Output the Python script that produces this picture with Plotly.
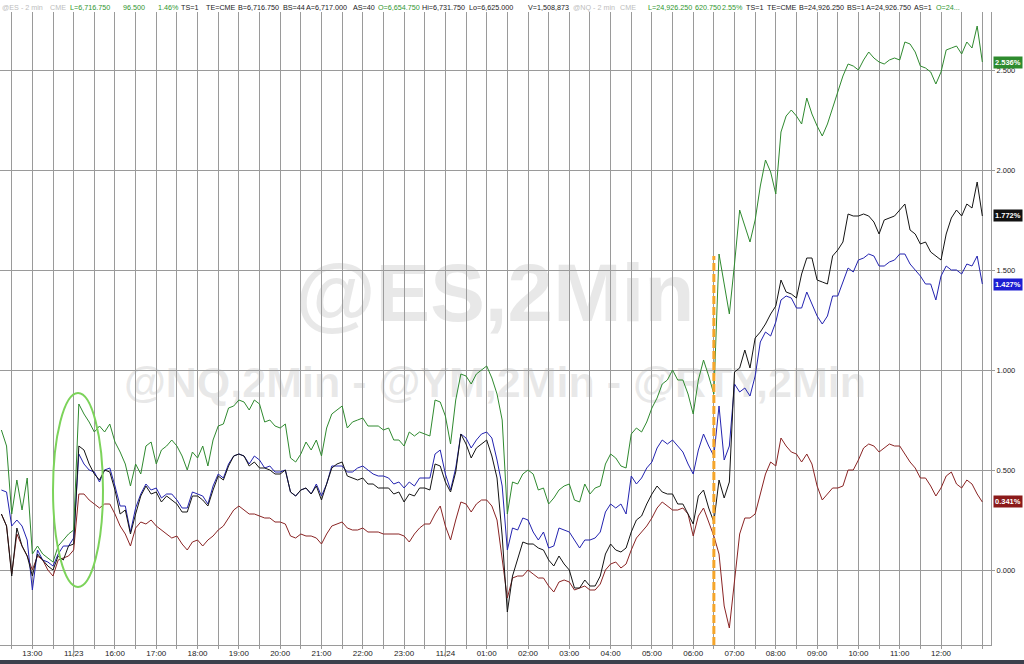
import plotly.graph_objects as go

# ---------------- data ----------------
# x positions: half-hour slot index (grid line every slot), sampled every 7.5 minutes
time_slot = [-0.5 + 0.25 * i for i in range(191)]

tick_slots = [1, 3, 5, 7, 9, 11, 13, 15, 17, 19, 21, 23, 25, 27, 29, 31, 33, 35, 37, 39, 41, 43, 45]
tick_text = ["13:00", "11/23", "16:00", "17:00", "18:00", "19:00", "20:00", "21:00", "22:00",
             "23:00", "11/24", "01:00", "02:00", "03:00", "04:00", "05:00", "06:00", "07:00",
             "08:00", "09:00", "10:00", "11:00", "12:00"]
y_ticks = [0.0, 0.5, 1.0, 1.5, 2.0, 2.5]

# % change series (NQ green, YM-like black, ES blue, RTY red)
nq_pct = [0.70, 0.62,
    0.28, 0.45, 0.30, 0.46,  0.08, 0.12, 0.08, 0.06,  0.04, 0.12, 0.15, 0.18,  0.20, 0.83, 0.78, 0.74,
    0.69, 0.72, 0.69, 0.73,  0.64, 0.59, 0.53, 0.42,  0.53, 0.48, 0.62, 0.64,  0.53, 0.60, 0.62, 0.65,
    0.62, 0.57, 0.50, 0.59,  0.56, 0.62, 0.52, 0.65,  0.72, 0.73, 0.81, 0.82,  0.85, 0.84, 0.80, 0.85,
    0.83, 0.74, 0.75, 0.72,  0.71, 0.73, 0.56, 0.54,  0.58, 0.64, 0.60, 0.65,  0.57, 0.71, 0.78, 0.80,
    0.82, 0.71, 0.74, 0.75,  0.76, 0.72, 0.72, 0.72,  0.70, 0.71, 0.65, 0.65,  0.62, 0.69, 0.67, 0.69,
    0.68, 0.67, 0.85, 0.84,  0.77, 0.63, 0.85, 0.98,  0.97, 0.93, 0.98, 1.00,  1.02, 0.96, 0.88, 0.75,
    0.28, 0.44, 0.43, 0.48,  0.50, 0.48, 0.40, 0.41,  0.33, 0.36, 0.40, 0.42,  0.43, 0.35, 0.34, 0.43,
    0.38, 0.41, 0.42, 0.53,  0.58, 0.56, 0.52, 0.51,  0.68, 0.71, 0.69, 0.74,  0.81, 0.86, 0.93, 0.95,
    1.00, 0.95, 0.95, 0.88,  0.78, 0.95, 1.05, 0.97,  0.88, 1.58, 1.44, 1.28,  1.53, 1.80, 1.72, 1.64,
    1.75, 1.92, 2.05, 1.99,  1.88, 2.19, 2.27, 2.30,  2.27, 2.23, 2.36, 2.28,  2.22, 2.17, 2.23, 2.31,
    2.39, 2.47, 2.53, 2.52,  2.50, 2.55, 2.59, 2.56,  2.54, 2.53, 2.55, 2.56,  2.55, 2.64, 2.63, 2.59,
    2.52, 2.51, 2.49, 2.43,  2.49, 2.60, 2.61, 2.62,  2.58, 2.64, 2.61, 2.72,
    2.54]

ym_pct = [0.28, 0.22,
    -0.03, 0.21, 0.12, 0.07,  -0.03, 0.08, 0.05, 0.02,  0.00, 0.07, 0.05, 0.12,  0.13, 0.62, 0.60, 0.53,
    0.48, 0.45, 0.50, 0.49,  0.40, 0.28, 0.30, 0.18,  0.28, 0.37, 0.42, 0.38,  0.39, 0.34, 0.37, 0.35,
    0.33, 0.29, 0.29, 0.37,  0.37, 0.35, 0.32, 0.40,  0.47, 0.45, 0.52, 0.57,  0.58, 0.57, 0.52, 0.54,
    0.51, 0.51, 0.50, 0.48,  0.48, 0.50, 0.39, 0.37,  0.40, 0.41, 0.38, 0.42,  0.35, 0.43, 0.51, 0.53,
    0.54, 0.47, 0.46, 0.45,  0.46, 0.43, 0.43, 0.41,  0.41, 0.41, 0.38, 0.39,  0.34, 0.38, 0.37, 0.41,
    0.41, 0.40, 0.53, 0.52,  0.44, 0.39, 0.49, 0.68,  0.63, 0.56, 0.61, 0.63,  0.65, 0.57, 0.46, 0.17,
    -0.21, -0.03, 0.05, 0.14,  0.13, 0.13, 0.11, 0.10,  0.05, 0.02, 0.07, 0.03,  0.00, -0.09, -0.09, -0.05,
    -0.08, -0.08, -0.03, 0.08,  0.13, 0.10, 0.09, 0.11,  0.19, 0.25, 0.27, 0.33,  0.38, 0.42, 0.39, 0.38,
    0.38, 0.33, 0.33, 0.28,  0.23, 0.37, 0.40, 0.31,  0.24, 0.45, 0.36, 0.44,  0.99, 1.01, 1.10, 1.01,
    1.16, 1.19, 1.23, 1.28,  1.32, 1.45, 1.39, 1.38,  1.36, 1.48, 1.56, 1.56,  1.45, 1.44, 1.43, 1.57,
    1.60, 1.64, 1.78, 1.77,  1.77, 1.78, 1.77, 1.74,  1.68, 1.75, 1.76, 1.77,  1.80, 1.83, 1.70, 1.68,
    1.63, 1.64, 1.59, 1.57,  1.55, 1.68, 1.76, 1.80,  1.77, 1.83, 1.81, 1.94,
    1.77]

es_pct = [0.40, 0.39,
    0.22, 0.25, 0.22, 0.15,  -0.10, 0.10, 0.05, 0.04,  0.02, 0.08, 0.12, 0.12,  0.16, 0.58, 0.53, 0.50,
    0.49, 0.44, 0.50, 0.51,  0.42, 0.32, 0.32, 0.19,  0.31, 0.38, 0.43, 0.40,  0.41, 0.36, 0.38, 0.38,
    0.35, 0.31, 0.31, 0.39,  0.38, 0.37, 0.33, 0.42,  0.48, 0.46, 0.53, 0.57,  0.58, 0.57, 0.53, 0.57,
    0.55, 0.51, 0.52, 0.49,  0.49, 0.50, 0.39, 0.37,  0.40, 0.41, 0.38, 0.43,  0.37, 0.43, 0.52, 0.52,
    0.52, 0.49, 0.49, 0.51,  0.52, 0.50, 0.48, 0.47,  0.47, 0.46, 0.43, 0.44,  0.41, 0.44, 0.42, 0.46,
    0.46, 0.46, 0.58, 0.60,  0.48, 0.40, 0.51, 0.68,  0.66, 0.61, 0.65, 0.68,  0.69, 0.66, 0.55, 0.42,
    0.10, 0.21, 0.20, 0.26,  0.25, 0.19, 0.15, 0.19,  0.11, 0.12, 0.21, 0.20,  0.19, 0.15, 0.11, 0.15,
    0.15, 0.16, 0.19, 0.29,  0.33, 0.31, 0.33, 0.28,  0.47, 0.43, 0.46, 0.51,  0.54, 0.61, 0.65, 0.63,
    0.65, 0.62, 0.59, 0.53,  0.48, 0.60, 0.68, 0.62,  0.57, 0.82, 0.55, 0.62,  0.93, 0.89, 0.91, 0.87,
    0.97, 1.14, 1.19, 1.17,  1.24, 1.35, 1.37, 1.36,  1.31, 1.31, 1.39, 1.33,  1.27, 1.23, 1.27, 1.37,
    1.37, 1.44, 1.51, 1.49,  1.55, 1.56, 1.58, 1.57,  1.52, 1.52, 1.54, 1.55,  1.58, 1.58, 1.53, 1.50,
    1.47, 1.43, 1.43, 1.35,  1.47, 1.52, 1.50, 1.50,  1.48, 1.53, 1.52, 1.57,
    1.43]

rty_pct = [0.28, 0.22,
    -0.02, 0.18, 0.12, 0.07,  0.00, 0.07, 0.05, 0.00,  -0.03, 0.05, 0.06, 0.07,  0.10, 0.38, 0.38, 0.35,
    0.33, 0.31, 0.33, 0.33,  0.28, 0.22, 0.18, 0.12,  0.21, 0.24, 0.23, 0.25,  0.22, 0.20, 0.18, 0.16,
    0.17, 0.13, 0.10, 0.14,  0.15, 0.12, 0.15, 0.17,  0.20, 0.22, 0.26, 0.30,  0.32, 0.30, 0.28, 0.28,
    0.27, 0.26, 0.26, 0.24,  0.24, 0.23, 0.17, 0.16,  0.18, 0.17, 0.17, 0.16,  0.13, 0.18, 0.22, 0.23,
    0.24, 0.21, 0.20, 0.20,  0.21, 0.19, 0.19, 0.19,  0.18, 0.18, 0.18, 0.18,  0.17, 0.14, 0.18, 0.21,
    0.23, 0.23, 0.28, 0.32,  0.22, 0.15, 0.25, 0.34,  0.33, 0.29, 0.33, 0.35,  0.35, 0.32, 0.25, 0.05,
    -0.14, -0.04, -0.03, -0.03,  0.00, -0.02, -0.04, -0.04,  -0.08, -0.11, -0.06, -0.05,  -0.06, -0.10, -0.09, -0.08,
    -0.10, -0.10, -0.07, 0.00,  0.03, 0.04, 0.01, 0.03,  0.10, 0.16, 0.19, 0.22,  0.26, 0.31, 0.34, 0.32,
    0.30, 0.30, 0.31, 0.28,  0.17, 0.27, 0.31, 0.24,  0.17, 0.08, -0.18, -0.29,  -0.06, 0.18, 0.26, 0.26,
    0.28, 0.38, 0.48, 0.54,  0.52, 0.66, 0.62, 0.59,  0.58, 0.54, 0.58, 0.53,  0.42, 0.35, 0.38, 0.41,
    0.41, 0.42, 0.50, 0.50,  0.55, 0.61, 0.63, 0.62,  0.59, 0.61, 0.63, 0.62,  0.62, 0.58, 0.54, 0.51,
    0.46, 0.46, 0.42, 0.37,  0.41, 0.47, 0.49, 0.43,  0.41, 0.45, 0.43, 0.38,
    0.34]

last_values = [2.536, 1.772, 1.427, 0.341]
series_colors = ["#2f8a2f", "#141414", "#2323b0", "#8a2424"]
badge_colors = ["#2e8b2e", "#111111", "#1e1ed2", "#8b1a1a"]

event_slot = 34          # orange dashed marker
event_top = 1.57

header_fields = [
    ("@ES - 2 min", "g", 1), ("CME", "g", 49), ("L=6,716.750", "G", 69), ("96.500", "G", 122),
    ("1.46%", "G", 157), ("TS=1", "k", 180), ("TE=CME", "k", 205), ("B=6,716.750", "k", 237),
    ("BS=44", "k", 282), ("A=6,717.000", "k", 305), ("AS=40", "k", 352), ("O=6,654.750", "G", 377),
    ("Hi=6,731.750", "k", 421), ("Lo=6,625.000", "k", 468), ("V=1,508,873", "k", 527),
    ("@NQ - 2 min", "g", 572), ("CME", "g", 619), ("L=24,926.250", "G", 647), ("620.750", "G", 694),
    ("2.55%", "G", 721), ("TS=1", "k", 745), ("TE=CME", "k", 766), ("B=24,926.250", "k", 798),
    ("BS=1", "k", 846), ("A=24,926.750", "k", 865), ("AS=1", "k", 913), ("O=24...", "G", 935),
]
header_colors = {"g": "#bdbdbd", "G": "#2f962f", "k": "#1a1a1a"}

# ---------------- figure ----------------
W, H = 1024, 664
ML, MR, MT, MB = 0, 33, 12, 19
PW = W - ML - MR
PH = H - MT - MB
XR = [-0.567, 47.42]
YR = [-0.375, 2.79]
grid = "#9a9a9a"
wm_color = "rgba(165,165,165,0.25)"

fig = go.Figure()

# watermarks (drawn first so lines sit on top)
fig.add_trace(go.Scatter(x=[23.4], y=[1.35], mode="text", text=["<b>@ES,2Min</b>"],
                         textfont=dict(family="Arial", size=82, color=wm_color),
                         hoverinfo="skip", cliponaxis=False))
fig.add_trace(go.Scatter(x=[23.4], y=[0.92], mode="text",
                         text=["<b>@NQ,2Min - @YM,2Min - @RTY,2Min</b>"],
                         textfont=dict(family="Arial", size=43, color=wm_color),
                         hoverinfo="skip", cliponaxis=False))

for vals, col in zip([rty_pct, es_pct, ym_pct, nq_pct],
                     [series_colors[3], series_colors[2], series_colors[1], series_colors[0]]):
    fig.add_trace(go.Scatter(x=time_slot, y=vals, mode="lines",
                             line=dict(color=col, width=1), hoverinfo="skip"))

shapes = [
    dict(type="line", xref="x", yref="y", x0=event_slot, x1=event_slot, y0=YR[0], y1=event_top,
         line=dict(color="#F5A52A", width=3, dash="8px,3px")),
    dict(type="circle", xref="x", yref="y", x0=2.0, x1=4.42, y0=-0.085, y1=0.885,
         line=dict(color="#7cd35a", width=2)),
    dict(type="rect", xref="paper", yref="paper", x0=-0.01, x1=(W + 5) / PW,
         y0=-(MB + 3) / PH, y1=-(MB - 4) / PH, line=dict(width=0), fillcolor="#3b404c"),
]
for d in [3, 21]:
    shapes.append(dict(type="line", xref="x", yref="paper", x0=d, x1=d, y0=-12 / PH, y1=0,
                       line=dict(color=grid, width=1)))

annotations = []
for txt, c, px in header_fields:
    annotations.append(dict(text=txt, xref="paper", yref="paper", x=px / PW, y=1,
                            xanchor="left", yanchor="bottom", showarrow=False, yshift=-1,
                            borderpad=0,
                            font=dict(family="Arial", size=7.2, color=header_colors[c])))
for v, bc in zip(last_values, badge_colors):
    annotations.append(dict(text=f"<b>{v:.3f}%</b>", xref="paper", yref="y", x=1, y=v,
                            xanchor="left", yanchor="middle", xshift=2, showarrow=False,
                            bgcolor=bc, borderpad=1,
                            font=dict(family="Arial", size=7.5, color="white")))

fig.update_layout(
    width=W, height=H, margin=dict(l=ML, r=MR, t=MT, b=MB, autoexpand=False),
    paper_bgcolor="white", plot_bgcolor="white", showlegend=False,
    shapes=shapes, annotations=annotations,
    xaxis=dict(range=XR, tickvals=tick_slots, ticktext=tick_text, showgrid=True,
               gridcolor=grid, gridwidth=1, ticks="", ticklen=0,
               tickfont=dict(family="Arial", size=8, color="#222"), showline=True,
               linecolor=grid, zeroline=False,
               minor=dict(dtick=1, tick0=0, showgrid=True, gridcolor=grid, gridwidth=1,
                          ticks="outside", ticklen=3, tickcolor=grid)),
    yaxis=dict(range=YR, side="right", tickvals=y_ticks, tickformat=".3f", ticksuffix="%",
               showgrid=True, gridcolor=grid, gridwidth=1, ticks="outside", ticklen=3,
               tickcolor=grid, tickfont=dict(family="Arial", size=7.5, color="#222"),
               showline=True, linecolor=grid, zeroline=False),
)

fig.write_html("out.html", config={"displayModeBar": False},
               post_script="document.body.style.margin='0px';document.body.style.overflow='hidden';")
